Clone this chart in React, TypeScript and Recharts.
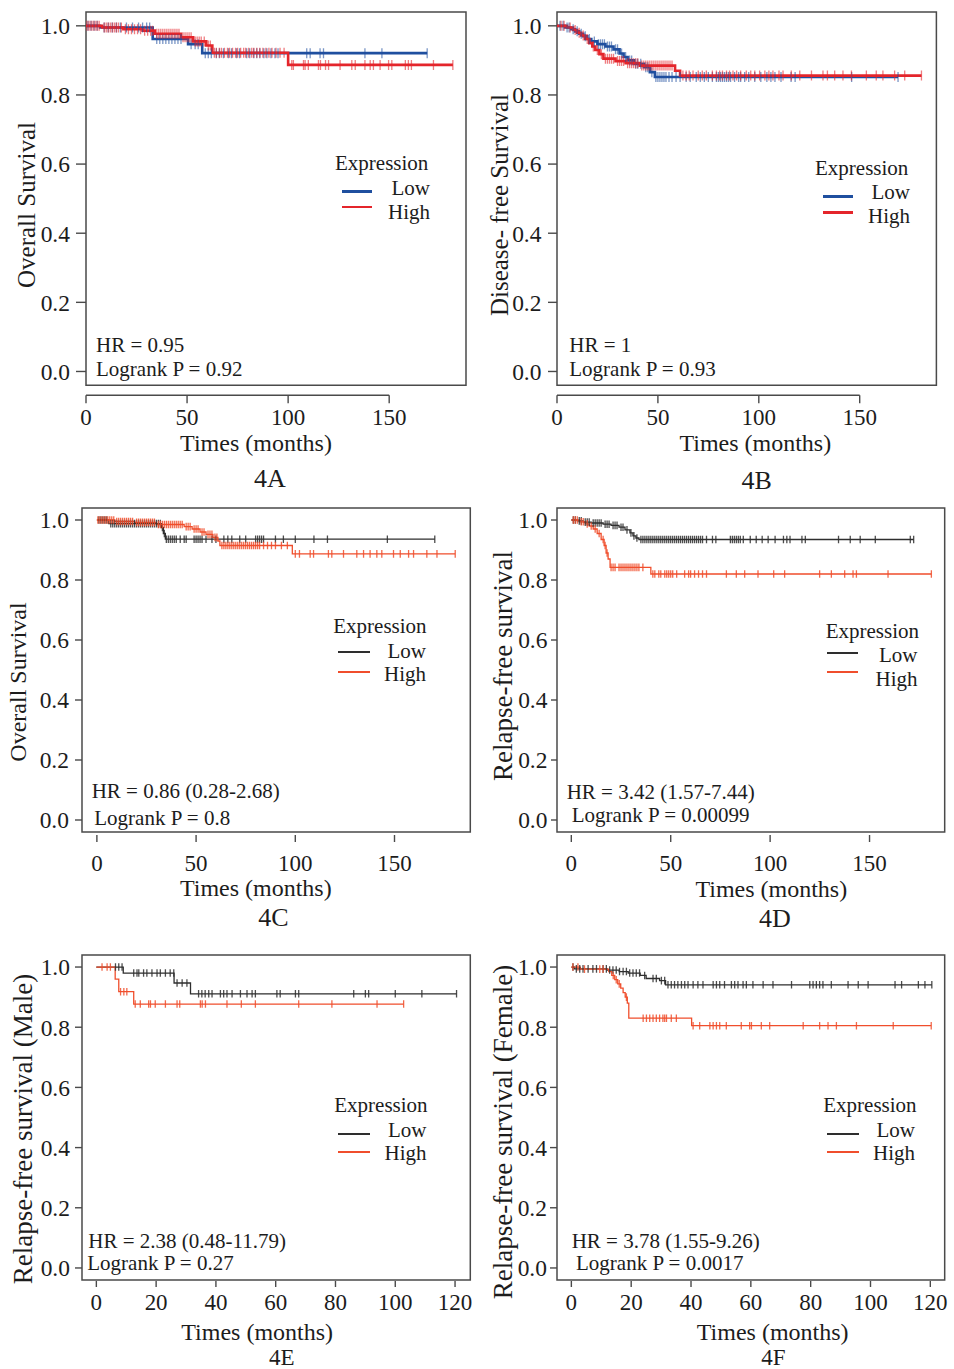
import React from 'react';
import { ComposedChart, Line, XAxis, YAxis, ReferenceArea, ReferenceLine } from 'recharts';

type Step = [number, number];

const FONT = '"Liberation Serif", "Times New Roman", Times, serif';
const TEXT = '#1c1c1c';
const FRAME = '#4a4a4a';

// ---------- labels ----------
const groupLabels = ['Low', 'High'];
const legendTitle = 'Expression';
const xTitle = 'Times (months)';
const yTicks = [0, 0.2, 0.4, 0.6, 0.8, 1.0];
const xTicksLong = [0, 50, 100, 150];
const xTicksShort = [0, 20, 40, 60, 80, 100, 120];
const panelNames = ['4A', '4B', '4C', '4D', '4E', '4F'];
const yTitles = [
  'Overall Survival',
  'Disease- free Survival',
  'Overall Survival',
  'Relapse-free survival',
  'Relapse-free survival (Male)',
  'Relapse-free survival (Female)',
];
const hrTexts = [
  'HR = 0.95',
  'HR = 1',
  'HR = 0.86 (0.28-2.68)',
  'HR = 3.42 (1.57-7.44)',
  'HR = 2.38 (0.48-11.79)',
  'HR = 3.78 (1.55-9.26)',
];
const pTexts = [
  'Logrank P = 0.92',
  'Logrank P = 0.93',
  'Logrank P = 0.8',
  'Logrank P = 0.00099',
  'Logrank P = 0.27',
  'Logrank P = 0.0017',
];

// ---------- 4A ----------
const aLowSteps: Step[] = [[0, 1], [7, 0.995], [33, 0.962], [50.5, 0.947], [57.5, 0.921]];
const aLowCensor = [1, 2.5, 4, 5.5, 9, 11, 13, 15, 17, 20, 23, 26, 28, 30, 31.5, 35, 36.5, 38, 39.5, 41, 42.5, 44, 45.5, 47, 52, 54, 55.5, 59, 60.5, 62, 64.5, 66, 68, 70.5, 72, 74.5, 76, 79.5, 81, 83, 84.5, 86, 88, 89.5, 91.5, 93.5, 95, 109.2, 110.9, 115.8, 117.5, 138, 146.4, 168.8];
const aHighSteps: Step[] = [[0, 1], [8, 0.995], [18.5, 0.99], [28, 0.986], [34, 0.977], [47, 0.967], [53, 0.955], [59.5, 0.943], [62.5, 0.922], [100, 0.887]];
const aHighCensor = [0.5, 1.5, 2.5, 3.5, 4.5, 5.5, 6.5, 9, 10, 11, 12, 13, 14, 15, 16, 17.5, 19.5, 21, 22.5, 24, 25.5, 27, 29, 30.5, 32, 33, 35, 36, 37, 38, 39, 40, 41, 42, 43, 44, 45, 46, 48, 49, 50, 51, 52, 54, 55, 56, 57, 58.5, 60.5, 61.5, 63.5, 64.5, 66, 67, 68.5, 70, 71, 72.5, 74, 75, 76.5, 78, 79, 80.5, 82, 83, 84.5, 86, 87.5, 89, 90.5, 92, 94, 96, 98, 101.8, 102.6, 107.6, 108.4, 110, 115, 116, 118.5, 120, 125.7, 131.5, 133.2, 138, 140.6, 142.2, 145.5, 149.7, 151.3, 158, 159.5, 161, 171.9, 181.5];

// ---------- 4B ----------
const bLowSteps: Step[] = [[0, 1], [4, 0.995], [7, 0.99], [9, 0.984], [11, 0.977], [13, 0.97], [15, 0.962], [17, 0.955], [20, 0.947], [24, 0.94], [28, 0.932], [31, 0.92], [33, 0.91], [35, 0.9], [38, 0.89], [43, 0.88], [46, 0.866], [48.5, 0.852]];
const bLowCensor = [1.5, 3, 5, 6, 8, 10, 12, 14, 16, 18.5, 20.5, 21.5, 22.5, 23.5, 25, 26, 27, 29, 30, 32, 34, 36, 37, 39, 40, 41.5, 44, 45, 47, 49, 50, 51, 52, 53, 54, 55.5, 57, 59, 61, 64, 66, 69, 71, 73, 75, 77, 79, 80, 81, 82, 83, 84, 85, 86, 88, 90, 91, 93, 95, 98, 101, 104, 106, 108, 111, 116, 118, 146, 169];
const bHighSteps: Step[] = [[0, 1], [5, 0.995], [8, 0.988], [10, 0.98], [12, 0.972], [14, 0.962], [16, 0.95], [17.5, 0.94], [19, 0.93], [21, 0.918], [23, 0.905], [29, 0.898], [34, 0.892], [41, 0.885], [58.5, 0.87], [61, 0.856]];
const bHighCensor = [2, 3.5, 6.5, 9, 11, 13, 15, 18, 20, 22, 24, 25, 26, 27, 28, 30, 31, 32, 33, 35, 36, 37, 38, 39, 40, 42, 43, 44, 45, 46, 47, 48, 49, 50, 51, 52, 53, 54, 55, 56, 57, 62.4, 64, 65.5, 67.4, 70, 72, 74, 77, 79, 80.6, 82, 84, 85.5, 87.2, 89, 91, 93.8, 96, 98, 100.4, 103, 105, 107, 110, 112, 116.1, 120.3, 126.1, 131.8, 134, 137.6, 141.7, 145.9, 153.3, 158.2, 161.5, 167.3, 172.3, 180.6];

// ---------- 4C ----------
const cLowSteps: Step[] = [[0, 1], [6, 0.988], [32.5, 0.975], [33.5, 0.955], [34.5, 0.936]];
const cLowCensor = [1, 2, 3, 4, 5, 7, 8, 9, 10, 11, 12, 13, 14, 15, 16, 17, 18, 19, 20, 21, 22, 23, 24, 25, 26, 27, 28, 29, 30, 31, 32, 33, 34, 35, 36, 37, 38, 39, 40, 42, 44, 45, 49, 50, 51, 52, 53, 55, 58, 60, 64, 66, 68, 72, 75, 80, 81, 82, 83, 84, 90, 94, 100, 109.4, 116.2, 146.4, 170.3];
const cHighSteps: Step[] = [[0, 1], [9, 0.995], [19, 0.992], [30, 0.985], [44, 0.978], [48, 0.97], [52, 0.96], [55, 0.952], [58.5, 0.942], [61, 0.93], [62, 0.915], [98.5, 0.887]];
const cHighCensor = [0.5, 1.5, 2.5, 3.5, 4.5, 5.5, 6.5, 7.5, 8.5, 10, 11, 12, 13, 14, 15, 16, 17, 18, 20, 21, 22, 23, 24, 25, 26, 27, 28, 29, 31, 32, 33, 34, 35, 36, 37, 38, 39, 40, 41, 42, 43, 45, 46, 47, 49, 50, 51, 53, 54, 56, 57, 58, 59.5, 60.5, 63, 64, 65, 66, 67, 68, 69, 70, 71, 72, 73, 74, 75, 76, 77, 78, 79, 80, 81, 82, 84, 86, 88, 90, 93, 96, 100, 102.1, 107.5, 109.2, 116.7, 118.4, 124.3, 131, 134.4, 137.7, 141.1, 143.6, 149.5, 152.9, 157.1, 159.6, 166.3, 171.4, 180.6];

// ---------- 4D ----------
const dLowSteps: Step[] = [[0, 1], [3, 0.997], [6, 0.993], [10, 0.99], [16, 0.986], [20, 0.982], [24, 0.976], [27, 0.967], [29.5, 0.957], [31, 0.947], [32.5, 0.94], [34, 0.935]];
const dLowCensor = [1, 2, 4, 5, 7, 8, 9, 11, 12, 13, 14, 15, 17, 18, 19, 21, 22, 23, 25, 26, 28, 30, 31.5, 33, 35, 36, 37, 38, 39, 40, 41, 42, 43, 44, 45, 46, 47, 48, 49, 50, 51, 52, 53, 54, 55, 56, 57, 58, 59, 60, 61, 62, 63, 64, 65, 66, 68, 71, 72.7, 80, 81, 82, 83, 84, 85, 86.5, 90, 93, 96, 99, 102.5, 106.7, 108.4, 110, 116, 117.7, 134.4, 140.3, 145.3, 152.9, 170.5, 172.2];
const dHighSteps: Step[] = [[0, 1], [4, 0.994], [7, 0.987], [9, 0.98], [11, 0.97], [13, 0.955], [15, 0.935], [16.5, 0.915], [17.5, 0.89], [18.5, 0.87], [19.5, 0.842], [40, 0.82]];
const dHighCensor = [1, 2, 3, 5, 6, 8, 10, 12, 14, 16, 17, 18, 20, 21, 22, 24, 25, 26, 27, 28, 29, 30, 31, 32, 33, 34, 36, 41, 42, 44, 45, 47, 48, 49, 50, 51, 53, 57, 59, 60, 62, 64, 66, 68, 78, 83, 87.2, 93.9, 101.8, 107.3, 124.9, 130.8, 137.5, 141.7, 143.4, 159.3, 181.1];

// ---------- 4E ----------
const eLowSteps: Step[] = [[0, 1], [9, 0.98], [26, 0.947], [31.5, 0.911]];
const eLowCensor = [6.4, 7.5, 8.6, 12.5, 13.6, 14.2, 15.8, 16.9, 18.6, 20.3, 21.4, 23.1, 24.7, 25.9, 27, 28.7, 30.3, 34.2, 35.3, 36.4, 37.6, 38.7, 41.5, 42.6, 43.7, 45.4, 48.2, 50.4, 52.1, 53.2, 60.4, 61.5, 66.6, 67.7, 86.1, 90, 91.1, 100, 108.9, 120.5];
const eHighSteps: Step[] = [[0, 1], [6.3, 0.96], [7.5, 0.918], [12.5, 0.877]];
const eHighCensor = [1.9, 3.6, 4.7, 8.1, 9.2, 10.2, 13, 14.7, 17.5, 18.1, 19.7, 23.1, 27, 27.9, 34.8, 35.4, 36.5, 43.7, 48.5, 53.2, 67.7, 78.8, 93.9, 102.8];

// ---------- 4F ----------
const fLowSteps: Step[] = [[0, 1], [1, 0.994], [12, 0.99], [16, 0.985], [19, 0.98], [23, 0.972], [25, 0.962], [29.5, 0.955], [31.5, 0.941]];
const fLowCensor = [0.55, 1.66, 2.8, 3.9, 5.6, 7.2, 8.4, 10.6, 11.7, 12.8, 13.9, 15, 16.1, 17.3, 18.4, 19.5, 20.6, 21.7, 22.8, 24.5, 27.3, 28.4, 30.1, 31.2, 32.3, 33.4, 34.5, 35.6, 36.8, 37.9, 39, 40.7, 42.3, 44, 47.4, 48.5, 49.6, 51.2, 53.5, 54.6, 55.7, 57.4, 58.5, 60.7, 64.1, 67.4, 73.6, 79.7, 80.8, 81.9, 83, 84.1, 86.9, 92.5, 95.9, 99.2, 108.2, 110.4, 116, 118.2, 120.5];
const fHighSteps: Step[] = [[0, 1], [3, 0.993], [12.5, 0.985], [13.5, 0.972], [14.5, 0.958], [15.5, 0.944], [16.5, 0.93], [17.3, 0.915], [18, 0.9], [18.7, 0.88], [19.2, 0.83], [40.2, 0.805]];
const fHighCensor = [0.5, 2.2, 4.4, 9.5, 10.6, 14, 15, 16, 18.4, 24, 25.1, 26.2, 27.3, 28.4, 29.5, 30.6, 31.2, 31.8, 33.4, 35.1, 40.7, 42.9, 46.3, 47.4, 48.5, 49.6, 51.8, 56.8, 59.6, 60.2, 63.5, 66.3, 77.5, 83, 85.8, 88.6, 95.3, 107.6, 120.3];

// ---------- helpers ----------
function buildSeries(steps: Step[], censor: number[]) {
  const pts: { t: number; s: number; c: boolean }[] = steps.map(([t, s]) => ({ t, s, c: false }));
  censor.forEach((t) => {
    let s = steps[0][1];
    for (const [st, sv] of steps) if (st <= t) s = sv;
    pts.push({ t, s, c: true });
  });
  pts.sort((a, b) => a.t - b.t || (a.c ? 1 : 0) - (b.c ? 1 : 0));
  return pts;
}

const BLUE = '#1f4f9f';
const RED = '#e4252b';
const DARK = '#2e2e2e';
const ORANGE = '#f04e2c';

type Legend = { tx: number; tcy: number; lx1: number; lx2: number; ly: [number, number]; tr: number; cy: [number, number] };
type Cfg = {
  box: { L: number; T: number; R: number; B: number };
  xDomain: [number, number];
  xTicks: number[];
  yTickSize: number;
  yTickMargin: number;
  axisLineGap: number | null;
  xt1: number;
  xt2: number;
  xLab: number;
  lineW: number;
  tickH: number;
  tickOp: number;
  colors: [string, string];
  series: [ReturnType<typeof buildSeries>, ReturnType<typeof buildSeries>];
  yTitle: { cx: number; cy: number; size: number };
  xTitle: { cx: number; cy: number };
  name: { cx: number; cy: number; size: number };
  legend: Legend;
  hr: { x: number; cy: number };
  p: { x: number; cy: number };
};

const panels: Cfg[] = [
  {
    box: { L: 86, T: 11.7, R: 466, B: 385 },
    xDomain: [0, 188], xTicks: xTicksLong, yTickSize: 10, yTickMargin: 6,
    axisLineGap: 10, xt1: 10, xt2: 18, xLab: 32,
    lineW: 2.6, tickH: 5, tickOp: 0.6, colors: [BLUE, RED],
    series: [buildSeries(aLowSteps, aLowCensor), buildSeries(aHighSteps, aHighCensor)],
    yTitle: { cx: 26, cy: 205, size: 25 }, xTitle: { cx: 256, cy: 443 }, name: { cx: 270, cy: 479, size: 26 },
    legend: { tx: 335, tcy: 163, lx1: 342, lx2: 372, ly: [191.7, 207], tr: 430, cy: [188, 212] },
    hr: { x: 96, cy: 345 }, p: { x: 96, cy: 369 },
  },
  {
    box: { L: 557.3, T: 11.7, R: 936.7, B: 385 },
    xDomain: [0, 188], xTicks: xTicksLong, yTickSize: 9, yTickMargin: 6.5,
    axisLineGap: 10, xt1: 10, xt2: 18, xLab: 32,
    lineW: 2.6, tickH: 5, tickOp: 0.6, colors: [BLUE, RED],
    series: [buildSeries(bLowSteps, bLowCensor), buildSeries(bHighSteps, bHighCensor)],
    yTitle: { cx: 499.3, cy: 205, size: 25 }, xTitle: { cx: 755.3, cy: 443 }, name: { cx: 756.7, cy: 480.7, size: 26 },
    legend: { tx: 815, tcy: 168, lx1: 823.3, lx2: 853.3, ly: [196.7, 212.3], tr: 910, cy: [192.7, 216.7] },
    hr: { x: 569.3, cy: 345 }, p: { x: 569.3, cy: 369 },
  },
  {
    box: { L: 81.7, T: 508.3, R: 470, B: 832.3 },
    xDomain: [-7.5, 188.2], xTicks: xTicksLong, yTickSize: 7, yTickMargin: 6,
    axisLineGap: null, xt1: 3, xt2: 10, xLab: 31,
    lineW: 1.3, tickH: 3.8, tickOp: 0.85, colors: [DARK, ORANGE],
    series: [buildSeries(cLowSteps, cLowCensor), buildSeries(cHighSteps, cHighCensor)],
    yTitle: { cx: 18.3, cy: 681.7, size: 24 }, xTitle: { cx: 255.8, cy: 888.3 }, name: { cx: 273.3, cy: 918.3, size: 26 },
    legend: { tx: 333.3, tcy: 626.7, lx1: 338.3, lx2: 370, ly: [652, 672], tr: 426, cy: [651.7, 674.3] },
    hr: { x: 91.7, cy: 791.7 }, p: { x: 94.3, cy: 818.3 },
  },
  {
    box: { L: 557.3, T: 508.3, R: 945, B: 832.3 },
    xDomain: [-7.2, 187.8], xTicks: xTicksLong, yTickSize: 6, yTickMargin: 3.5,
    axisLineGap: null, xt1: 3, xt2: 10, xLab: 31.5,
    lineW: 1.3, tickH: 3.8, tickOp: 0.85, colors: [DARK, ORANGE],
    series: [buildSeries(dLowSteps, dLowCensor), buildSeries(dHighSteps, dHighCensor)],
    yTitle: { cx: 503.3, cy: 665.7, size: 27 }, xTitle: { cx: 771.3, cy: 889 }, name: { cx: 775, cy: 919, size: 26 },
    legend: { tx: 825.7, tcy: 631.7, lx1: 826.7, lx2: 858.3, ly: [653, 672], tr: 917.5, cy: [655.7, 679.3] },
    hr: { x: 566.7, cy: 792.3 }, p: { x: 571.7, cy: 815 },
  },
  {
    box: { L: 81.7, T: 955, R: 470, B: 1280 },
    xDomain: [-4.8, 125.1], xTicks: xTicksShort, yTickSize: 7, yTickMargin: 5,
    axisLineGap: null, xt1: 1, xt2: 7, xLab: 21.7,
    lineW: 1.3, tickH: 3.8, tickOp: 0.85, colors: [DARK, ORANGE],
    series: [buildSeries(eLowSteps, eLowCensor), buildSeries(eHighSteps, eHighCensor)],
    yTitle: { cx: 23.3, cy: 1129, size: 27 }, xTitle: { cx: 257.2, cy: 1332 }, name: { cx: 281.7, cy: 1357, size: 23 },
    legend: { tx: 334.3, tcy: 1105.7, lx1: 338.3, lx2: 370, ly: [1134, 1152], tr: 426.5, cy: [1130, 1153.3] },
    hr: { x: 88.3, cy: 1241 }, p: { x: 87.3, cy: 1263.3 },
  },
  {
    box: { L: 557.3, T: 955, R: 945, B: 1280 },
    xDomain: [-4.8, 124.8], xTicks: xTicksShort, yTickSize: 7, yTickMargin: 3,
    axisLineGap: null, xt1: 1, xt2: 7, xLab: 21.7,
    lineW: 1.3, tickH: 3.8, tickOp: 0.85, colors: [DARK, ORANGE],
    series: [buildSeries(fLowSteps, fLowCensor), buildSeries(fHighSteps, fHighCensor)],
    yTitle: { cx: 503.3, cy: 1131.7, size: 27 }, xTitle: { cx: 772.7, cy: 1332 }, name: { cx: 773.3, cy: 1357, size: 23 },
    legend: { tx: 823.3, tcy: 1105.7, lx1: 827.3, lx2: 859, ly: [1134, 1152], tr: 915, cy: [1130, 1153.3] },
    hr: { x: 571.7, cy: 1241 }, p: { x: 576, cy: 1263.3 },
  },
];

const Y_DOMAIN: [number, number] = [-0.04, 1.04];

function Txt({ x, cy, size, children, anchor = 'left' }: any) {
  const style: React.CSSProperties = {
    position: 'absolute',
    top: cy - size / 2,
    fontFamily: FONT,
    fontSize: size,
    lineHeight: `${size}px`,
    color: TEXT,
    whiteSpace: 'nowrap',
  };
  if (anchor === 'left') style.left = x;
  else if (anchor === 'right') style.right = 954 - x;
  else {
    style.left = x;
    style.transform = 'translateX(-50%)';
  }
  return <div style={style}>{children}</div>;
}

function VTxt({ cx, cy, size, children }: any) {
  return (
    <div
      style={{
        position: 'absolute',
        left: cx,
        top: cy,
        transform: 'translate(-50%, -50%) rotate(-90deg)',
        fontFamily: FONT,
        fontSize: size,
        lineHeight: `${size}px`,
        color: TEXT,
        whiteSpace: 'nowrap',
      }}
    >
      {children}
    </div>
  );
}

function Panel({ cfg, idx }: { cfg: Cfg; idx: number }) {
  const { L, T, R, B } = cfg.box;
  const left = L - 90;
  const top = T - 10;
  const width = R - L + 100;
  const height = B - T + 70;
  const yPerPx = (Y_DOMAIN[1] - Y_DOMAIN[0]) / (B - T);

  const xTick = (p: any) => {
    const { x, y, payload } = p;
    return (
      <g key={`xt${payload.value}`}>
        <line x1={x} x2={x} y1={y + cfg.xt1} y2={y + cfg.xt2} stroke={FRAME} strokeWidth={1.4} />
        <text x={x} y={y + cfg.xLab + 8} textAnchor="middle" fontFamily={FONT} fontSize={23} fill={TEXT}>
          {payload.value}
        </text>
      </g>
    );
  };

  const makeDot = (color: string) => (p: any) => {
    if (p && p.payload && p.payload.c) {
      return (
        <line
          key={`c${p.index}`}
          x1={p.cx}
          x2={p.cx}
          y1={p.cy - cfg.tickH}
          y2={p.cy + cfg.tickH}
          stroke={color}
          strokeWidth={1.3}
          strokeOpacity={cfg.tickOp}
        />
      );
    }
    return <g key={`n${p.index}`} />;
  };

  return (
    <div style={{ position: 'absolute', left, top, width, height }}>
      <ComposedChart width={width} height={height} margin={{ top: 10, right: 10, left: 10, bottom: 0 }}>
        <XAxis
          dataKey="t"
          type="number"
          domain={cfg.xDomain}
          ticks={cfg.xTicks}
          allowDataOverflow
          axisLine={false}
          tickLine={false}
          tickSize={0}
          tickMargin={0}
          height={60}
          interval={0}
          tick={xTick}
        />
        <YAxis
          type="number"
          domain={Y_DOMAIN}
          ticks={yTicks}
          allowDataOverflow
          axisLine={false}
          tickLine={{ stroke: FRAME, strokeWidth: 1.4 }}
          tickSize={cfg.yTickSize}
          tickMargin={cfg.yTickMargin}
          width={80}
          interval={0}
          tickFormatter={(v: number) => v.toFixed(1)}
          tick={{ fontFamily: FONT, fontSize: 23.5, fill: TEXT }}
        />
        {cfg.series.map((data, i) => (
          <Line
            key={`s${idx}-${i}`}
            data={data}
            dataKey="s"
            type="stepAfter"
            stroke={cfg.colors[i]}
            strokeWidth={cfg.lineW}
            dot={makeDot(cfg.colors[i])}
            activeDot={false}
            isAnimationActive={false}
            name={groupLabels[i]}
          />
        ))}
        <ReferenceArea
          x1={cfg.xDomain[0]}
          x2={cfg.xDomain[1]}
          y1={Y_DOMAIN[0]}
          y2={Y_DOMAIN[1]}
          fill="none"
          fillOpacity={0}
          stroke={FRAME}
          strokeWidth={1.5}
          ifOverflow="visible"
        />
        {cfg.axisLineGap !== null && (
          <ReferenceLine
            segment={[
              { x: cfg.xTicks[0], y: Y_DOMAIN[0] - cfg.axisLineGap * yPerPx },
              { x: cfg.xTicks[cfg.xTicks.length - 1], y: Y_DOMAIN[0] - cfg.axisLineGap * yPerPx },
            ]}
            stroke={FRAME}
            strokeWidth={1.4}
            ifOverflow="visible"
          />
        )}
      </ComposedChart>
    </div>
  );
}

function Overlay({ cfg, idx }: { cfg: Cfg; idx: number }) {
  const lg = cfg.legend;
  const legendW = idx < 2 ? 2.6 : 1.5;
  return (
    <>
      <VTxt cx={cfg.yTitle.cx} cy={cfg.yTitle.cy} size={cfg.yTitle.size}>{yTitles[idx]}</VTxt>
      <Txt x={cfg.xTitle.cx} cy={cfg.xTitle.cy} size={24} anchor="center">{xTitle}</Txt>
      <Txt x={cfg.name.cx} cy={cfg.name.cy} size={cfg.name.size} anchor="center">{panelNames[idx]}</Txt>
      <Txt x={lg.tx} cy={lg.tcy} size={21}>{legendTitle}</Txt>
      {[0, 1].map((i) => (
        <React.Fragment key={i}>
          <div
            style={{
              position: 'absolute',
              left: lg.lx1,
              top: lg.ly[i] - legendW / 2,
              width: lg.lx2 - lg.lx1,
              height: legendW,
              background: cfg.colors[i],
            }}
          />
          <Txt x={lg.tr} cy={lg.cy[i]} size={21} anchor="right">{groupLabels[i]}</Txt>
        </React.Fragment>
      ))}
      <Txt x={cfg.hr.x} cy={cfg.hr.cy} size={21}>{hrTexts[idx]}</Txt>
      <Txt x={cfg.p.x} cy={cfg.p.cy} size={21}>{pTexts[idx]}</Txt>
    </>
  );
}

export default function App() {
  return (
    <div
      style={{
        position: 'absolute',
        left: 0,
        top: 0,
        width: 954,
        height: 1369,
        background: '#ffffff',
        overflow: 'hidden',
      }}
    >
      {panels.map((cfg, i) => (
        <Panel key={`p${i}`} cfg={cfg} idx={i} />
      ))}
      {panels.map((cfg, i) => (
        <Overlay key={`o${i}`} cfg={cfg} idx={i} />
      ))}
    </div>
  );
}
